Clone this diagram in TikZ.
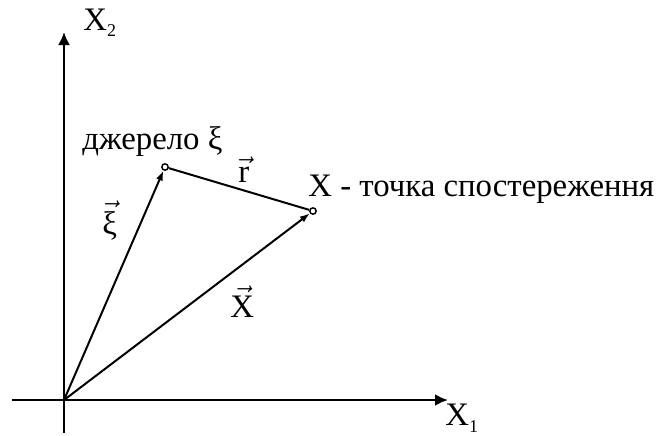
\documentclass[tikz,border=0pt]{standalone}
\usepackage{amsmath}
\usepackage{fontspec}
\setmainfont{Liberation Serif}
\usetikzlibrary{arrows.meta}

\begin{document}
\begin{tikzpicture}[x=0.5pt,y=-0.5pt,
  axis/.style={line width=1.2pt,-{Latex[length=6.5pt,width=6pt]}},
  vect/.style={line width=1pt,-{Latex[length=5pt,width=3.6pt]}},
  pt/.style={circle,draw,fill=white,line width=0.7pt,inner sep=0pt,minimum size=3.2pt},
  lbl/.style={inner sep=0pt,font=\fontsize{16.4}{19}\selectfont}]
  \useasboundingbox (0,0) rectangle (665,435);
  % axes
  \coordinate (O) at (64,400);
  \coordinate (xs) at (12,400);
  \coordinate (xe) at (448,400);
  \coordinate (ys) at (64,433);
  \coordinate (ye) at (64,32);
  \draw[axis] (xs) -- (xe);
  \draw[axis] (ys) -- (ye);
  % source and observation points
  \node[pt] (src) at (165,167) {};
  \node[pt] (obs) at (313,211) {};
  \draw[vect] (O) -- (src);
  \draw[vect] (O) -- (obs);
  \draw[line width=1pt] (src) -- (obs);
  % labels
  \node[lbl,anchor=base west] (x2) at (83,30) {X\raisebox{-3pt}{\fontsize{9}{11}\selectfont 2}};
  \node[lbl,anchor=base west] (x1) at (445,425) {X\raisebox{-3.5pt}{\fontsize{9}{11}\selectfont 1}};
  \node[lbl,anchor=base west] (srclbl) at (82,149) {джерело ξ};
  \node[lbl,anchor=base west] (obslbl) at (308,196) {X - точка спостереження};
  \node[lbl,anchor=base west] (rlbl) at (238,182) {$\vec{\text{r}}$};
  \node[lbl,anchor=base west] (xilbl) at (102,234) {$\vec{\text{ξ}}$};
  \node[lbl,anchor=base west] (xlbl) at (230,317) {$\vec{\text{X}}$};
\end{tikzpicture}
\end{document}
